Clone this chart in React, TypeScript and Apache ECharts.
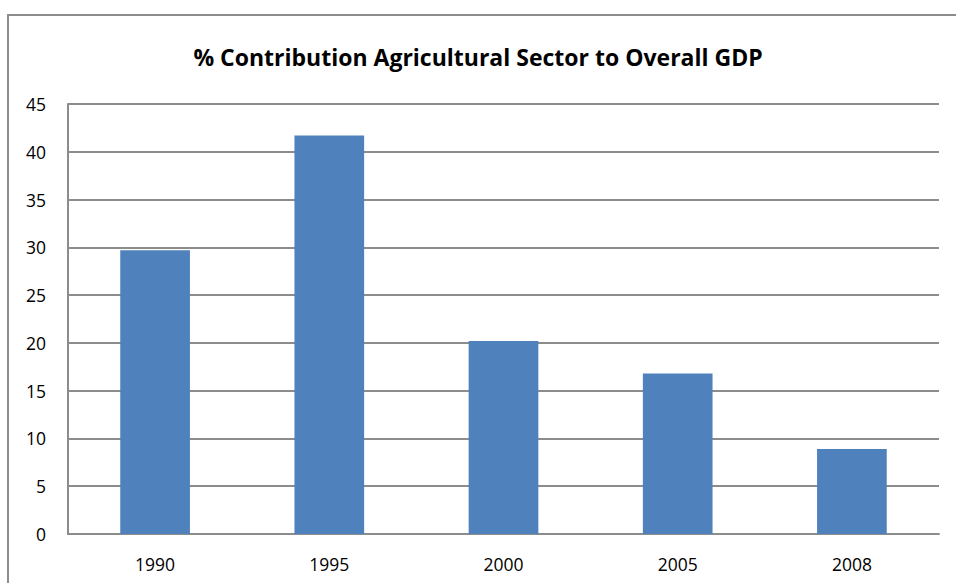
import React, { useEffect, useRef } from "react";
import * as echarts from "echarts";

const titleText = "% Contribution Agricultural Sector to Overall GDP";
const years = ["1990", "1995", "2000", "2005", "2008"];
const shares = [29.7, 41.7, 20.2, 16.8, 8.9];
const yMin = 0;
const yMax = 45;
const yStep = 5;

export default function App() {
  const ref = useRef<HTMLDivElement>(null);
  useEffect(() => {
    if (!ref.current) return;
    const chart = echarts.init(ref.current, null, { renderer: "svg" });
    chart.setOption({
      animation: false,
      backgroundColor: "#ffffff",
      title: {
        text: titleText,
        left: "center",
        top: 40,
        textStyle: {
          fontFamily: "Open Sans",
          fontWeight: "bold",
          fontSize: 23,
          color: "#000000",
        },
      },
      graphic: [
        {
          type: "rect",
          shape: { x: 8, y: 15, width: 1000, height: 1000 },
          style: { fill: "none", stroke: "#8c8c8c", lineWidth: 2 },
          silent: true,
        },
      ],
      grid: { left: 68, right: 17, top: 104, bottom: 49, containLabel: false },
      xAxis: {
        type: "category",
        data: years,
        axisLine: { show: true, lineStyle: { color: "#8c8c8c", width: 2 } },
        axisTick: { show: false },
        axisLabel: {
          fontFamily: "Open Sans",
          fontSize: 17.5,
          color: "#000000",
          margin: 21,
        },
      },
      yAxis: {
        type: "value",
        min: yMin,
        max: yMax,
        interval: yStep,
        axisLine: { show: true, lineStyle: { color: "#8c8c8c", width: 2 } },
        axisTick: { show: false },
        splitLine: { show: true, lineStyle: { color: "#8c8c8c", width: 2 } },
        axisLabel: {
          fontFamily: "Open Sans",
          fontSize: 17.5,
          color: "#000000",
          margin: 22,
        },
      },
      series: [
        {
          type: "bar",
          data: shares,
          barWidth: "40%",
          itemStyle: { color: "#4f81bd" },
        },
      ],
    });
    return () => chart.dispose();
  }, []);
  return (
    <div
      ref={ref}
      style={{ position: "fixed", left: 0, top: 0, width: 956, height: 583 }}
    />
  );
}
